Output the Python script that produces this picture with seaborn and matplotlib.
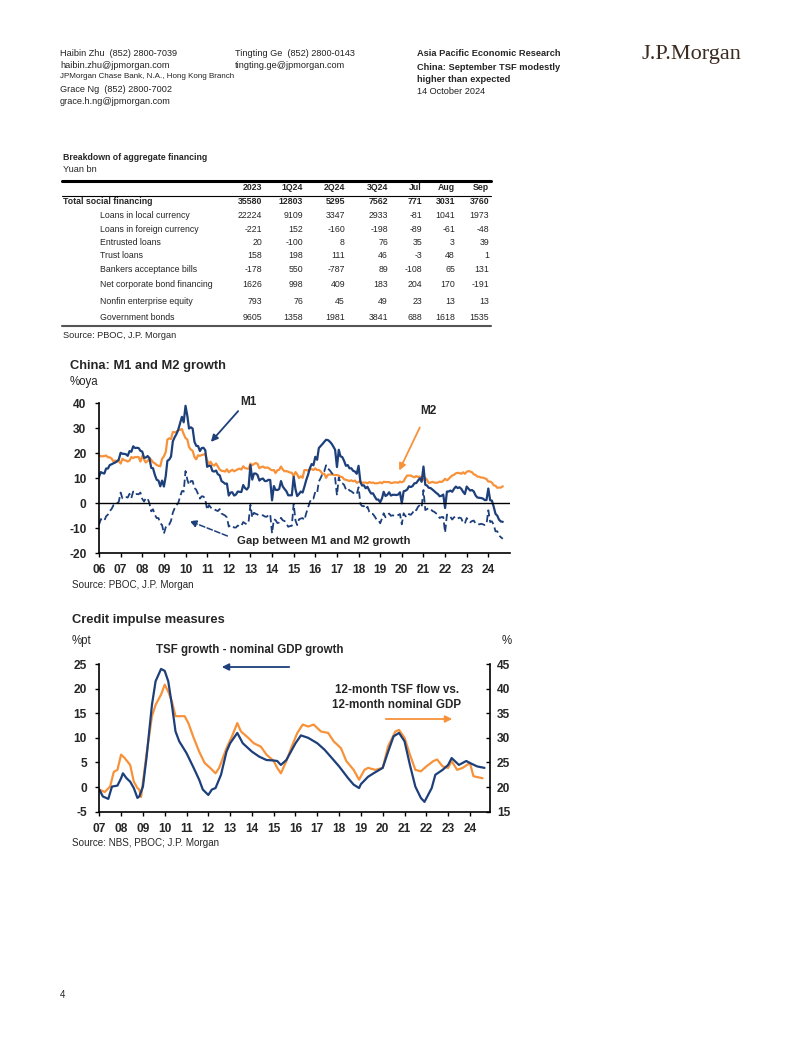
import matplotlib
matplotlib.use('Agg')
import matplotlib.pyplot as plt
import matplotlib.dates as mdates
from matplotlib.lines import Line2D
import seaborn as sns
import numpy as np
import pandas as pd

sns.set_theme(style='white')
plt.rcParams['font.family'] = ['Liberation Sans', 'DejaVu Sans']
plt.rcParams['axes.unicode_minus'] = False

NAVY = '#1d3f7a'
ORANGE = '#f7923a'
W, H = 802, 1037

# ---------------- table data (Yuan bn) ----------------
tbl_cols = ['2023', '1Q24', '2Q24', '3Q24', 'Jul', 'Aug', 'Sep']
tbl_rows = ['Total social financing', 'Loans in local currency', 'Loans in foreign currency',
            'Entrusted loans', 'Trust loans', 'Bankers acceptance bills',
            'Net corporate bond financing', 'Nonfin enterprise equity', 'Government bonds']
total = [35580, 12803, 5295, 7562, 771, 3031, 3760]
loans_local = [22224, 9109, 3347, 2933, -81, 1041, 1973]
loans_fx = [-221, 152, -160, -198, -89, -61, -48]
entrusted = [20, -100, 8, 76, 35, 3, 39]
trust = [158, 198, 111, 46, -3, 48, 1]
bankers = [-178, 550, -787, 89, -108, 65, 131]
corp_bond = [1626, 998, 409, 183, 204, 170, -191]
equity = [793, 76, 45, 49, 23, 13, 13]
govt_bond = [9605, 1358, 1981, 3841, 688, 1618, 1535]

# ---------------- M1 / M2 growth, %oya, monthly from Jan 2006 ----------------
m1 = [10.6, 12.5, 12.1, 11.9, 13.9, 13.9, 15.3, 15.6, 16.0, 16.3, 16.8, 17.5,   # 2006
      20.2, 19.8, 19.8, 19.6, 19.0, 20.9, 20.6, 22.8, 22.1, 22.2, 22.1, 21.0,   # 2007
      20.7, 18.2, 18.3, 18.9, 18.1, 14.2, 14.0, 11.4, 9.4, 9.1, 6.8, 9.1,       # 2008
      6.7, 10.9, 17.0, 17.5, 18.7, 24.8, 26.4, 27.7, 29.5, 32.0, 34.6, 32.4,    # 2009
      39.0, 34.9, 29.9, 30.4, 29.9, 24.6, 23.0, 22.9, 20.9, 22.1, 22.2, 21.2,   # 2010
      14.6, 15.0, 15.0, 12.9, 12.7, 13.1, 11.6, 11.2, 8.9, 8.4, 7.8, 7.9,       # 2011
      3.1, 4.3, 4.4, 3.1, 3.5, 4.7, 4.6, 4.5, 7.3, 6.1, 5.5, 6.5,               # 2012
      15.3, 9.5, 11.9, 11.9, 11.3, 9.1, 9.7, 9.9, 8.9, 8.9, 9.4, 9.3,           # 2013
      1.2, 6.9, 5.4, 5.3, 5.7, 8.9, 6.7, 5.7, 4.8, 3.2, 3.2, 3.2,               # 2014
      10.6, 5.6, 2.9, 3.7, 4.7, 4.3, 6.6, 9.3, 11.4, 14.0, 15.7, 15.2,          # 2015
      18.6, 17.4, 22.1, 22.9, 23.7, 24.6, 25.4, 25.3, 24.7, 23.9, 22.7, 21.4,   # 2016
      14.5, 21.4, 18.8, 18.5, 17.0, 15.0, 15.3, 14.0, 14.0, 13.0, 12.7, 11.8,   # 2017
      15.0, 8.5, 7.1, 7.2, 6.0, 6.6, 5.1, 3.9, 4.0, 2.7, 1.5, 1.5,              # 2018
      0.4, 2.0, 4.6, 2.9, 3.4, 4.4, 3.1, 3.4, 3.4, 3.3, 3.5, 4.4,               # 2019
      0.0, 4.8, 5.0, 5.5, 6.8, 6.5, 6.9, 8.0, 8.1, 9.1, 10.0, 8.6,              # 2020
      14.7, 7.4, 7.1, 6.2, 6.1, 5.5, 4.9, 4.2, 3.7, 2.8, 3.0, 3.5,              # 2021
      -1.9, 4.7, 4.7, 5.1, 4.6, 5.8, 6.7, 6.1, 6.4, 5.8, 4.6, 3.7,              # 2022
      6.7, 5.8, 5.1, 5.3, 4.7, 3.1, 2.3, 2.2, 2.1, 1.9, 1.3, 1.3,               # 2023
      5.9, 1.2, 1.1, -1.4, -4.2, -5.0, -6.6, -7.3, -7.4]                        # 2024
m2 = [19.2, 18.8, 18.8, 18.9, 19.1, 18.4, 18.4, 17.9, 16.8, 17.1, 16.8, 16.9,   # 2006
      15.9, 17.8, 17.3, 17.1, 16.7, 17.1, 18.5, 18.1, 18.5, 18.5, 18.5, 16.7,   # 2007
      18.9, 17.5, 16.3, 16.9, 18.1, 17.4, 16.4, 16.0, 15.3, 15.0, 14.8, 17.8,   # 2008
      18.8, 20.5, 25.5, 26.0, 25.7, 28.5, 28.4, 28.5, 29.3, 29.4, 29.7, 27.7,   # 2009
      26.1, 25.5, 22.5, 21.5, 21.0, 18.5, 17.6, 19.2, 19.0, 19.3, 19.5, 19.7,   # 2010
      17.2, 15.7, 16.6, 15.3, 15.1, 15.9, 14.7, 13.5, 13.0, 12.9, 12.7, 13.6,   # 2011
      12.4, 13.0, 13.4, 12.8, 13.2, 13.6, 13.9, 13.5, 14.8, 14.1, 13.9, 13.8,   # 2012
      15.9, 15.2, 15.7, 16.1, 15.8, 14.0, 14.5, 14.7, 14.2, 14.3, 14.2, 13.6,   # 2013
      13.2, 13.3, 12.1, 13.2, 13.4, 14.7, 13.5, 12.8, 12.9, 12.6, 12.3, 12.2,   # 2014
      10.8, 12.5, 11.6, 10.1, 10.8, 10.2, 13.3, 13.3, 13.1, 13.5, 13.7, 13.3,   # 2015
      14.0, 13.3, 13.4, 12.8, 11.8, 11.8, 10.2, 11.4, 11.5, 11.6, 11.4, 11.3,   # 2016
      11.3, 11.1, 10.6, 10.5, 9.6, 9.4, 9.2, 8.9, 9.2, 8.8, 9.1, 8.2,           # 2017
      8.6, 8.8, 8.2, 8.3, 8.3, 8.0, 8.5, 8.2, 8.3, 8.0, 8.0, 8.1,               # 2018
      8.4, 8.0, 8.6, 8.5, 8.5, 8.5, 8.1, 8.2, 8.4, 8.4, 8.2, 8.7,               # 2019
      8.4, 8.8, 10.1, 11.1, 11.1, 11.1, 10.7, 10.4, 10.9, 10.5, 10.7, 10.1,     # 2020
      9.4, 10.1, 9.4, 8.1, 8.3, 8.6, 8.3, 8.2, 8.3, 8.7, 8.5, 9.0,              # 2021
      9.8, 9.2, 9.7, 10.5, 11.1, 11.4, 12.0, 12.2, 12.1, 11.8, 12.4, 11.8,      # 2022
      12.6, 12.9, 12.7, 12.4, 11.6, 11.3, 10.7, 10.6, 10.3, 10.3, 10.0, 9.7,    # 2023
      8.7, 8.7, 8.3, 7.2, 7.0, 6.2, 6.3, 6.3, 6.8]                              # 2024

# ---------------- credit impulse ----------------
# TSF growth - nominal GDP growth, %pt (left axis)
gap_dates = ['2007-01', '2007-03', '2007-06', '2007-08', '2007-11', '2008-01', '2008-02', '2008-04',
             '2008-06', '2008-08', '2008-10', '2008-11', '2009-01', '2009-03', '2009-06', '2009-08',
             '2009-11', '2010-01', '2010-03', '2010-05', '2010-07', '2010-09', '2011-01', '2011-05',
             '2011-08', '2011-10', '2012-01', '2012-03', '2012-05', '2012-08', '2012-11', '2013-01',
             '2013-05', '2013-08', '2014-01', '2014-05', '2014-09', '2015-01', '2015-03', '2015-05',
             '2015-08', '2016-01', '2016-04', '2016-08', '2017-01', '2017-05', '2017-09', '2018-01',
             '2018-06', '2018-09', '2018-12', '2019-01', '2019-05', '2019-08', '2020-01', '2020-04',
             '2020-07', '2020-10', '2021-01', '2021-04', '2021-07', '2021-10', '2021-12', '2022-04',
             '2022-06', '2022-10', '2023-01', '2023-03', '2023-07', '2023-11', '2024-01', '2024-05',
             '2024-09']
tsf_minus_gdp = [-0.5, -1.9, -2.4, 0.1, 0.3, 1.8, 2.8, 1.8,
                 1.1, -0.2, -2.2, -1.9, 0.1, 5.9, 16.7, 21.5,
                 24.0, 23.6, 21.5, 16.7, 11.3, 9.3, 6.9, 3.9,
                 1.5, -0.5, -1.6, -0.5, -0.2, 2.5, 7.2, 8.9,
                 11.0, 8.9, 7.2, 6.2, 5.5, 5.4, 5.3, 4.5,
                 5.5, 8.9, 10.5, 10.0, 8.9, 7.6, 5.9, 4.2,
                 1.8, 0.5, -0.2, 0.6, 2.1, 2.8, 3.9, 7.2,
                 10.3, 11.0, 9.3, 4.5, 0.1, -2.2, -3.0, -0.2,
                 2.5, 3.5, 4.5, 5.9, 4.5, 5.3, 4.9, 4.2,
                 3.9]
# 12-month TSF flow vs 12-month nominal GDP, % (right axis)
flow_dates = ['2007-01', '2007-04', '2007-07', '2007-09', '2007-11', '2008-01', '2008-03', '2008-06',
              '2008-08', '2008-10', '2008-11', '2008-12', '2009-03', '2009-06', '2009-08', '2009-11',
              '2010-01', '2010-03', '2010-05', '2010-07', '2010-09', '2010-12', '2011-02', '2011-05',
              '2011-08', '2011-11', '2012-02', '2012-05', '2012-07', '2012-11', '2013-02', '2013-05',
              '2013-07', '2013-11', '2014-02', '2014-06', '2014-09', '2015-01', '2015-03', '2015-05',
              '2015-08', '2015-11', '2016-02', '2016-05', '2016-08', '2016-11', '2017-03', '2017-07',
              '2017-10', '2018-02', '2018-05', '2018-09', '2018-12', '2019-03', '2019-05', '2019-09',
              '2020-01', '2020-04', '2020-08', '2020-10', '2021-01', '2021-04', '2021-07', '2021-10',
              '2022-01', '2022-05', '2022-07', '2022-10', '2023-01', '2023-03', '2023-06', '2023-09',
              '2024-01', '2024-03', '2024-08']
tsf_flow_gdp = [19.5, 19.0, 20.1, 23.1, 23.5, 26.6, 25.9, 24.5,
                21.1, 19.8, 19.5, 18.0, 26.6, 34.4, 36.7, 38.8,
                40.8, 39.4, 37.4, 34.4, 34.4, 34.4, 33.0, 30.0,
                27.2, 24.9, 23.9, 22.8, 23.9, 27.9, 30.3, 33.0,
                31.3, 30.0, 28.9, 28.2, 26.6, 25.3, 23.9, 22.8,
                25.3, 28.3, 31.0, 32.7, 32.3, 32.7, 31.3, 31.0,
                29.3, 27.9, 25.3, 23.5, 21.5, 23.5, 23.9, 23.5,
                23.9, 28.3, 31.3, 31.6, 30.0, 26.6, 23.5, 23.2,
                24.2, 25.3, 25.6, 24.2, 23.9, 25.3, 23.5, 23.9,
                24.9, 22.2, 21.8]


def P(x, y):
    return (x / W, 1 - y / H)


fig = plt.figure(figsize=(W / 100, H / 100), dpi=100)
fig.patch.set_facecolor('white')

# ---------------- header ----------------
hdr = dict(fontsize=6.6, va='center', color='#222222')
fig.text(*P(60, 53), 'Haibin Zhu  (852) 2800-7039', **hdr)
fig.text(*P(60, 65), 'haibin.zhu@jpmorgan.com', **hdr)
fig.text(*P(60, 77), 'JPMorgan Chase Bank, N.A., Hong Kong Branch', fontsize=5.8, va='center', color='#222222')
fig.text(*P(60, 90), 'Grace Ng  (852) 2800-7002', **hdr)
fig.text(*P(60, 102), 'grace.h.ng@jpmorgan.com', **hdr)
fig.text(*P(235, 53), 'Tingting Ge  (852) 2800-0143', **hdr)
fig.text(*P(235, 65), 'tingting.ge@jpmorgan.com', **hdr)
fig.text(*P(417, 54), 'Asia Pacific Economic Research', fontsize=6.7, fontweight='bold', va='center')
fig.text(*P(417, 67), 'China: September TSF modestly', fontsize=6.7, fontweight='bold', va='center')
fig.text(*P(417, 79), 'higher than expected', fontsize=6.7, fontweight='bold', va='center')
fig.text(*P(417, 91), '14 October 2024', **hdr)
fig.text(*P(641, 55), 'J.P.Morgan', fontsize=16, family='Liberation Serif', color='#3b2a20', va='center')

# ---------------- table ----------------
tf = 6.3
fig.text(*P(63, 157), 'Breakdown of aggregate financing', fontsize=tf, fontweight='bold', va='center')
fig.text(*P(63, 170), 'Yuan bn', fontsize=tf + 0.3, va='center')
col_x = [262, 303, 345, 388, 422, 455, 489]
fig.add_artist(Line2D([62 / W, 491 / W], [1 - 181 / H] * 2, color='black', lw=2.2, transform=fig.transFigure))
for cx, c in zip(col_x, tbl_cols):
    fig.text(*P(cx, 188), c, fontsize=tf, fontweight='bold', ha='right', va='center')
fig.add_artist(Line2D([62 / W, 491 / W], [1 - 195.5 / H] * 2, color='black', lw=0.8, transform=fig.transFigure))
tbl_vals = [total, loans_local, loans_fx, entrusted, trust, bankers, corp_bond, equity, govt_bond]
row_y = [202, 215.5, 229, 242.5, 256, 269.5, 285, 301, 317.5]
for i, (name, vals, ry) in enumerate(zip(tbl_rows, tbl_vals, row_y)):
    fw = 'bold' if i == 0 else 'normal'
    fig.text(*P(63 if i == 0 else 100, ry), name, fontsize=tf, fontweight=fw, va='center')
    for cx, v in zip(col_x, vals):
        fig.text(*P(cx, ry), str(v), fontsize=tf, fontweight=fw, ha='right', va='center')
fig.add_artist(Line2D([62 / W, 491 / W], [1 - 326 / H] * 2, color='#555555', lw=1.5, transform=fig.transFigure))
fig.text(*P(63, 336), 'Source: PBOC, J.P. Morgan', fontsize=tf + 0.3, va='center')

# ---------------- chart 1: M1 and M2 ----------------
fig.text(*P(70, 366), 'China: M1 and M2 growth', fontsize=9.3, fontweight='bold', va='center')
fig.text(*P(70, 382), '%oya', fontsize=8.3, va='center')

months = pd.date_range('2006-01-01', periods=len(m1), freq='MS')
df1 = pd.DataFrame({'date': months, 'M1': m1, 'M2': m2})
df1['gap'] = df1['M1'] - df1['M2']

ax1 = fig.add_axes([99 / W, 1 - 553.3 / H, 411 / W, 150 / H])
sns.lineplot(data=df1, x='date', y='M2', ax=ax1, color=ORANGE, lw=1.6)
sns.lineplot(data=df1, x='date', y='M1', ax=ax1, color=NAVY, lw=1.6)
sns.lineplot(data=df1, x='date', y='gap', ax=ax1, color=NAVY, lw=1.3, linestyle=(0, (4, 2)))
ax1.axhline(0, color='black', lw=1)
ax1.set_xlim(pd.Timestamp('2006-01-01'), pd.Timestamp('2025-01-01'))
ax1.set_ylim(-20, 40)
ax1.set_yticks(range(-20, 41, 10))
ax1.set_xticks(pd.date_range('2006-01-01', '2024-01-01', freq='YS'))

# ---------------- chart 2: credit impulse ----------------
fig.text(*P(72, 620), 'Credit impulse measures', fontsize=9.3, fontweight='bold', va='center')
fig.text(*P(72, 641), '%pt', fontsize=8.3, va='center')
fig.text(*P(512, 641), '%', fontsize=8.3, va='center', ha='right')

df2 = pd.DataFrame({'date': pd.to_datetime(gap_dates), 'val': tsf_minus_gdp})
df3 = pd.DataFrame({'date': pd.to_datetime(flow_dates), 'val': tsf_flow_gdp})

ax2 = fig.add_axes([99.3 / W, 1 - 811.7 / H, 390.6 / W, 147.7 / H])
ax3 = ax2.twinx()
sns.lineplot(data=df3, x='date', y='val', ax=ax3, color=ORANGE, lw=1.6)
sns.lineplot(data=df2, x='date', y='val', ax=ax2, color=NAVY, lw=1.6)
ax2.set_zorder(ax3.get_zorder() + 1)
ax2.patch.set_visible(False)
ax2.set_xlim(pd.Timestamp('2007-01-01'), pd.Timestamp('2024-12-01'))
ax2.set_ylim(-5, 25)
ax3.set_ylim(15, 45)
ax2.set_yticks(range(-5, 26, 5))
ax3.set_yticks(range(15, 46, 5))
ax2.set_xticks(pd.date_range('2007-01-01', '2024-01-01', freq='YS'))

for ax in (ax1, ax2):
    ax.set_xlabel('')
    ax.set_ylabel('')
    ax.xaxis.set_major_formatter(mdates.DateFormatter('%y'))
    for s in ('top', 'right'):
        ax.spines[s].set_visible(False)
    for s in ('left', 'bottom'):
        ax.spines[s].set_color('black')
        ax.spines[s].set_linewidth(1.2)
    ax.tick_params(axis='both', which='major', direction='out', length=3, width=1, color='black',
                   labelsize=8.6, bottom=True, left=True)
    ax.tick_params(axis='x', pad=5)
    ax.tick_params(axis='y', pad=6)
    for lab in ax.get_xticklabels() + ax.get_yticklabels():
        lab.set_fontweight('bold')

ax3.set_ylabel('')
ax3.spines['top'].set_visible(False)
ax3.spines['left'].set_visible(False)
ax3.spines['bottom'].set_visible(False)
ax3.spines['right'].set_color('black')
ax3.spines['right'].set_linewidth(1.2)
ax3.tick_params(axis='y', direction='in', length=3, width=1, color='black', labelsize=8.6, right=True, pad=5)
for lab in ax3.get_yticklabels():
    lab.set_fontweight('bold')

# ---------------- annotations ----------------
ffrac = 'figure fraction'
fig.text(*P(248, 402), 'M1', fontsize=8.6, fontweight='bold', ha='center', va='center')
ax1.annotate('', xy=P(209, 444), xytext=P(240, 409), xycoords=ffrac, textcoords=ffrac,
             arrowprops=dict(arrowstyle='-|>', color=NAVY, lw=1.3, mutation_scale=10))
fig.text(*P(428, 411), 'M2', fontsize=8.6, fontweight='bold', ha='center', va='center')
ax1.annotate('', xy=P(398, 473), xytext=P(421, 425), xycoords=ffrac, textcoords=ffrac,
             arrowprops=dict(arrowstyle='-|>', color=ORANGE, lw=1.3, mutation_scale=10))
fig.text(*P(237, 541), 'Gap between M1 and M2 growth', fontsize=8.2, fontweight='bold', va='center')
ax1.annotate('', xy=P(187, 520), xytext=P(230, 537), xycoords=ffrac, textcoords=ffrac,
             arrowprops=dict(arrowstyle='-|>', color=NAVY, lw=1.1, linestyle='--', mutation_scale=10))

fig.text(*P(250, 650), 'TSF growth - nominal GDP growth', fontsize=8.3, fontweight='bold', ha='center', va='center')
ax2.annotate('', xy=P(219, 667), xytext=P(292, 667), xycoords=ffrac, textcoords=ffrac,
             arrowprops=dict(arrowstyle='-|>', color=NAVY, lw=1.3, mutation_scale=10))
fig.text(*P(397, 690), '12-month TSF flow vs.', fontsize=8.4, fontweight='bold', ha='center', va='center')
fig.text(*P(397, 705), '12-month nominal GDP', fontsize=8.4, fontweight='bold', ha='center', va='center')
ax2.annotate('', xy=P(455, 719), xytext=P(383, 719), xycoords=ffrac, textcoords=ffrac,
             arrowprops=dict(arrowstyle='-|>', color=ORANGE, lw=1.3, mutation_scale=10))

fig.text(*P(72, 585), 'Source: PBOC, J.P. Morgan', fontsize=7.1, va='center')
fig.text(*P(72, 843), 'Source: NBS, PBOC; J.P. Morgan', fontsize=7.1, va='center')
fig.text(*P(60, 995), '4', fontsize=7, va='center')

fig.savefig('out.png', dpi=100, facecolor='white')
